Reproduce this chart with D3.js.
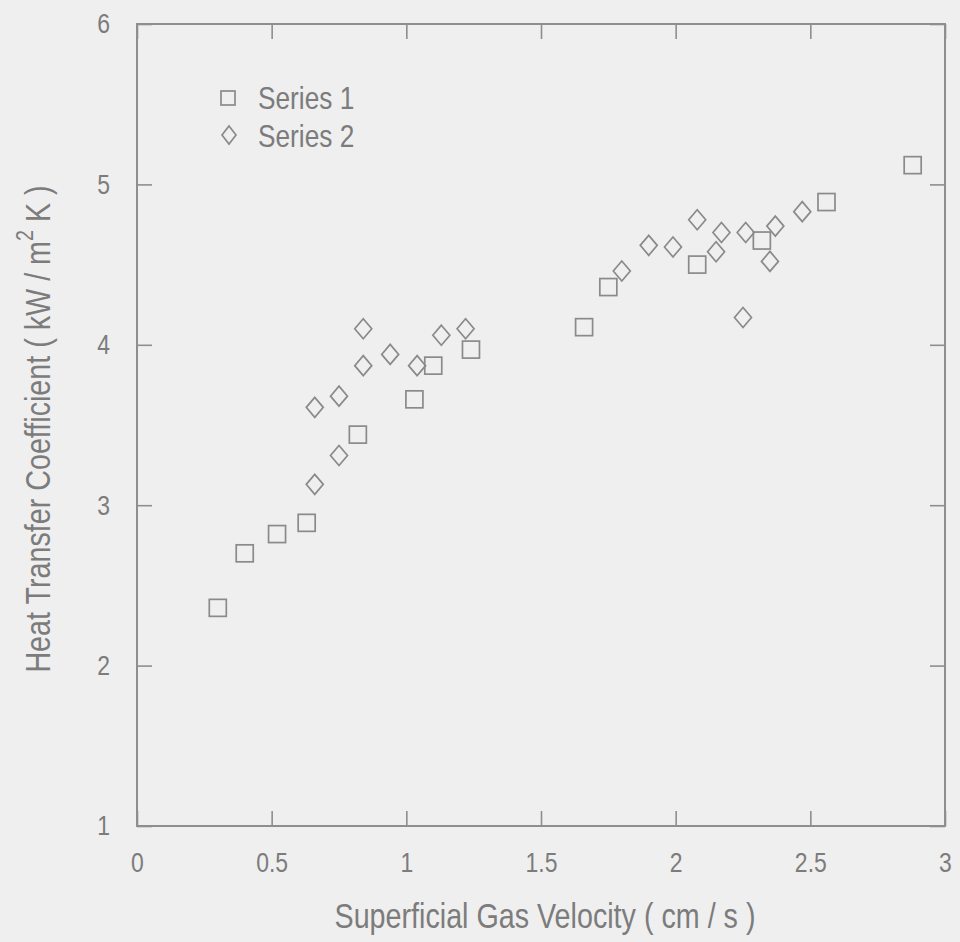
<!DOCTYPE html>
<html>
  <head>
    <meta charset="utf-8">
    <title>Heat Transfer Coefficient</title>
    <style>
    body {
      margin: 0;
      background: #efefef;
    }
    svg {
      display: block;
      background: #efefef;
    }
    .axis text, .label, .legend text {
      font-family: "Liberation Sans", Arial, sans-serif;
      fill: #7c7c7c;
    }
    .axis line {
      stroke: #8e8e8e;
      stroke-width: 1.6px;
    }
    .mark {
      fill: none;
      stroke: #8a8a8a;
      stroke-width: 1.7px;
    }
    </style>
    <script src="https://d3js.org/d3.v7.min.js"></script>
  </head>
  <body>
    <svg></svg>
    <script>
      // values
      var series1X = [0.30, 0.40, 0.52, 0.63, 0.82, 1.03, 1.10, 1.24, 1.66, 1.75, 2.08, 2.32, 2.56, 2.88];
      var series1Y = [2.36, 2.70, 2.82, 2.89, 3.44, 3.66, 3.87, 3.97, 4.11, 4.36, 4.50, 4.65, 4.89, 5.12];

      var series2X = [0.66, 0.75, 0.66, 0.75, 0.84, 0.84, 0.94, 1.04, 1.13, 1.22,
                      1.80, 1.90, 1.99, 2.08, 2.15, 2.17, 2.25, 2.26, 2.35, 2.37, 2.47];
      var series2Y = [3.13, 3.31, 3.61, 3.68, 3.87, 4.10, 3.94, 3.87, 4.06, 4.10,
                      4.46, 4.62, 4.61, 4.78, 4.58, 4.70, 4.17, 4.70, 4.52, 4.74, 4.83];

      var seriesNames = ["Series 1", "Series 2"];
      var xTicks = [0, 0.5, 1, 1.5, 2, 2.5, 3];
      var yTicks = [1, 2, 3, 4, 5, 6];
      var xTitle = "Superficial Gas Velocity ( cm / s )";

      var width = 960,
          height = 942;
      var margin = {top: 24, right: 15, bottom: 116, left: 137};
      var squeeze = 0.82; // no narrow font installed, so squash the sans

      var svg = d3.select("svg")
          .attr("width", width)
          .attr("height", height);

      var x = d3.scaleLinear()
          .domain([0, 3])
          .range([margin.left, width - margin.right]);
      var y = d3.scaleLinear()
          .domain([1, 6])
          .range([height - margin.bottom, margin.top]);

      function narrow(sel) {
        sel.each(function() {
          var t = d3.select(this);
          var px = +t.attr("x") || 0;
          t.attr("transform", "translate(" + px * (1 - squeeze) + ",0) scale(" + squeeze + ",1)");
        });
      }

      var fmt = function(d) { return d3.format("")(d); };
      var tick = 15;

      // bottom
      var gx = svg.append("g")
          .attr("class", "axis")
          .attr("transform", "translate(0," + y(1) + ")")
          .call(d3.axisBottom(x).tickValues(xTicks).tickFormat(fmt)
            .tickSizeInner(-tick).tickSizeOuter(0).tickPadding(26));
      gx.selectAll("text").style("font-size", "28px").call(narrow);

      // top
      svg.append("g")
          .attr("class", "axis")
          .attr("transform", "translate(0," + y(6) + ")")
          .call(d3.axisTop(x).tickValues(xTicks).tickFormat("")
            .tickSizeInner(-tick).tickSizeOuter(0));

      // left
      var gy = svg.append("g")
          .attr("class", "axis")
          .attr("transform", "translate(" + x(0) + ",0)")
          .call(d3.axisLeft(y).tickValues(yTicks).tickFormat(fmt)
            .tickSizeInner(-tick).tickSizeOuter(0).tickPadding(27));
      gy.selectAll("text").style("font-size", "28px").call(narrow);

      // right
      svg.append("g")
          .attr("class", "axis")
          .attr("transform", "translate(" + x(3) + ",0)")
          .call(d3.axisRight(y).tickValues(yTicks).tickFormat("")
            .tickSizeInner(-tick).tickSizeOuter(0));

      svg.selectAll(".axis .domain").remove();

      // frame
      svg.append("rect")
          .attr("x", x(0))
          .attr("y", y(6))
          .attr("width", x(3) - x(0))
          .attr("height", y(1) - y(6))
          .attr("fill", "none")
          .attr("stroke", "#8e8e8e")
          .attr("stroke-width", 2);

      // titles
      svg.append("text")
          .attr("class", "label")
          .attr("x", 545)
          .attr("y", 928)
          .attr("text-anchor", "middle")
          .style("font-size", "35px")
          .text(xTitle)
          .call(narrow);

      var yl = svg.append("text")
          .attr("class", "label")
          .attr("transform", "translate(50,429) rotate(-90) scale(" + squeeze + ",1)")
          .attr("text-anchor", "middle")
          .style("font-size", "35px");
      yl.append("tspan").text("Heat Transfer Coefficient ( kW / m");
      yl.append("tspan").attr("dy", -17).style("font-size", "24px").text("2");
      yl.append("tspan").attr("dy", 17).text(" K )");

      var sq = 17;
      function diamond(cx, cy) {
        return "M" + cx + "," + (cy - 10) + "L" + (cx + 8.5) + "," + cy +
               "L" + cx + "," + (cy + 10) + "L" + (cx - 8.5) + "," + cy + "Z";
      }

      svg.append("g")
        .selectAll("rect")
        .data(d3.range(series1X.length))
        .enter().append("rect")
          .attr("class", "mark")
          .attr("x", function(i) { return x(series1X[i]) - sq / 2; })
          .attr("y", function(i) { return y(series1Y[i]) - sq / 2; })
          .attr("width", sq)
          .attr("height", sq);

      svg.append("g")
        .selectAll("path")
        .data(d3.range(series2X.length))
        .enter().append("path")
          .attr("class", "mark")
          .attr("d", function(i) { return diamond(x(series2X[i]), y(series2Y[i])); });

      // legend
      var legend = svg.append("g").attr("class", "legend");
      legend.append("rect")
          .attr("class", "mark")
          .attr("x", 228 - 7).attr("y", 98 - 7)
          .attr("width", 14).attr("height", 14);
      legend.append("path")
          .attr("class", "mark")
          .attr("d", "M229,126L236,135L229,144L222,135Z");
      legend.selectAll("text")
        .data(seriesNames)
        .enter().append("text")
          .attr("x", 258)
          .attr("y", function(d, i) { return 109 + i * 38; })
          .style("font-size", "32px")
          .text(function(d) { return d; })
          .call(narrow);
    </script>
  </body>
</html>
